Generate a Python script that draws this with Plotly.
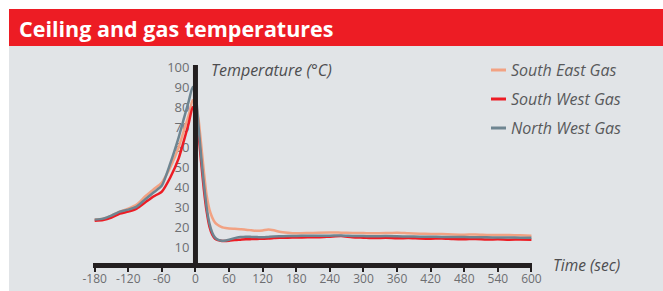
import plotly.graph_objects as go

# ---------------- data ----------------
time_sec = [-180, -165, -150, -135, -120, -105, -90, -75, -60, -45, -30, -20, -12, -5,
            0, 5, 10, 15, 20, 25, 30, 35, 40, 45, 50, 60, 70, 80, 90, 100, 110, 120,
            130, 140, 150, 165, 180, 200, 220, 240, 260, 280, 300, 320, 340, 360, 380,
            400, 420, 440, 460, 480, 500, 520, 540, 560, 580, 600]

south_east_gas = [24, 24.4, 26, 28, 29.5, 31.5, 35.5, 39, 42.5, 50, 60, 69, 76, 83.5,
                  82, 75, 62, 48, 36, 29, 25, 22.5, 21.3, 20.5, 20, 19.6, 19.4, 19.2, 19, 18.7, 18.4, 18.6,
                  19.1, 18.7, 18, 17.5, 17.2, 17.3, 17.5, 17.6, 17.5, 17.4, 17.3, 17.2, 17.3, 17.5, 17.2,
                  17, 16.9, 16.8, 16.6, 16.5, 16.6, 16.4, 16.3, 16.4, 16.2, 16]

south_west_gas = [23.5, 23.8, 25, 27, 28, 29.5, 32.5, 35.5, 38, 45, 54.5, 64, 72, 80,
                  78, 68, 53, 39, 28, 20.5, 16.5, 14.5, 13.8, 13.5, 13.4, 13.5, 13.8, 14, 14.2, 14.3, 14.4, 14.5,
                  14.6, 14.8, 15, 15, 15.1, 15.2, 15.2, 15.5, 15.8, 15.2, 15, 14.8, 15, 14.7, 14.8,
                  14.6, 14.5, 14.6, 14.3, 14.2, 14.4, 14.1, 14.2, 14, 14.1, 14]

north_west_gas = [24, 24.5, 26, 28, 29, 30.5, 34, 37.5, 41, 52, 65, 75, 83, 90,
                  87, 72, 56, 42, 30, 22, 17.5, 15, 14, 13.6, 13.5, 14, 14.8, 15.3, 15.5, 15.4, 15.3, 15.2,
                  15.4, 15.6, 15.7, 15.8, 15.9, 16, 16, 16, 16.1, 15.9, 15.8, 15.7, 15.8, 15.7, 15.6,
                  15.5, 15.5, 15.4, 15.3, 15.3, 15.2, 15.2, 15.1, 15.1, 15, 15]

series_names = ["South East Gas", "South West Gas", "North West Gas"]
series_values = [south_east_gas, south_west_gas, north_west_gas]
series_colors = ["#f2a283", "#ed1c24", "#6e8591"]

x_ticks = list(range(-180, 601, 60))
y_ticks = list(range(10, 101, 10))

title_text = "Ceiling and gas temperatures"
y_title = "Temperature (°C)"
x_title = "Time (sec)"

# ---------------- layout helpers ----------------
W, H = 663, 291
L, R, T, B = 93, 131, 65, 28
PW, PH = W - L - R, H - T - B
X_RANGE = [-183, 601]
Y_RANGE = [2.4, 101]


def px2x(px):
    return (px - L) / PW


def py2y(py):
    return (H - B - py) / PH


fig = go.Figure()
for name, vals, col in zip(series_names, series_values, series_colors):
    fig.add_trace(go.Scatter(
        x=time_sec, y=vals, name=name, mode="lines",
        line=dict(color=col, width=2.5, shape="spline", smoothing=0.6),
        showlegend=False, hoverinfo="skip"))

shapes = [
    dict(type="rect", xref="paper", yref="paper", x0=px2x(9), x1=px2x(663),
         y0=py2y(291), y1=py2y(46), fillcolor="#e1e4e7", line=dict(width=0), layer="below"),
    dict(type="rect", xref="paper", yref="paper", x0=px2x(9), x1=px2x(663),
         y0=py2y(46), y1=py2y(9), fillcolor="#ed1c24", line=dict(width=0), layer="below"),
    dict(type="line", xref="x", yref="y", x0=0, x1=0, y0=Y_RANGE[0], y1=Y_RANGE[1],
         line=dict(color="#231f20", width=5), layer="above"),
]

annotations = [
    dict(text=f"<b>{title_text}</b>", xref="paper", yref="paper", x=px2x(17), y=py2y(28),
         xanchor="left", yanchor="middle", showarrow=False,
         font=dict(family="Open Sans", size=21.5, color="white")),
    dict(text=f"<i>{y_title}</i>", xref="paper", yref="paper", x=px2x(209), y=py2y(70),
         xanchor="left", yanchor="middle", showarrow=False,
         font=dict(family="Open Sans", size=16, color="#4d4d4f")),
    dict(text=f"<i>{x_title}</i>", xref="paper", yref="paper", x=px2x(551), y=py2y(265),
         xanchor="left", yanchor="middle", showarrow=False,
         font=dict(family="Open Sans", size=15.5, color="#4d4d4f")),
]

legend_rows = [70, 99, 128]
for name, col, ry in zip(series_names, series_colors, legend_rows):
    shapes.append(dict(type="line", xref="paper", yref="paper", x0=px2x(491), x1=px2x(506),
                       y0=py2y(ry), y1=py2y(ry), line=dict(color=col, width=3)))
    annotations.append(dict(text=f"<i>{name}</i>", xref="paper", yref="paper",
                            x=px2x(509), y=py2y(ry), xanchor="left", yanchor="middle",
                            showarrow=False,
                            font=dict(family="Open Sans", size=16, color="#58595b")))

fig.update_layout(
    width=W, height=H, autosize=False,
    margin=dict(l=L, r=R, t=T, b=B),
    paper_bgcolor="white",
    plot_bgcolor="rgba(0,0,0,0)",
    font=dict(family="Open Sans", color="#6d6e71"),
    shapes=shapes,
    annotations=annotations,
    xaxis=dict(range=X_RANGE, tickvals=x_ticks, ticktext=[str(v) for v in x_ticks],
               automargin=False,
               showgrid=False, zeroline=False, showline=True, linewidth=5,
               linecolor="#231f20", ticks="outside", ticklen=4, tickwidth=1.5,
               tickcolor="#231f20", ticklabelstandoff=-3,
               tickfont=dict(size=12, color="#6d6e71")),
    yaxis=dict(range=Y_RANGE, tickvals=y_ticks, anchor="free", automargin=False,
               position=(0 - X_RANGE[0]) / (X_RANGE[1] - X_RANGE[0]),
               showgrid=False, zeroline=False, showline=False, ticks="",
               layer="below traces", ticklabelstandoff=6,
               tickfont=dict(size=13, color="#6d6e71")),
)

post = ("document.body.style.margin='0';document.body.style.padding='0';"
        "document.body.style.overflow='hidden';"
        "var d=document.getElementsByClassName('plotly-graph-div')[0];"
        "d.style.position='absolute';d.style.left='0px';d.style.top='0px';")
fig.write_html("out.html", post_script=post,
               config={"displayModeBar": False, "responsive": False})
